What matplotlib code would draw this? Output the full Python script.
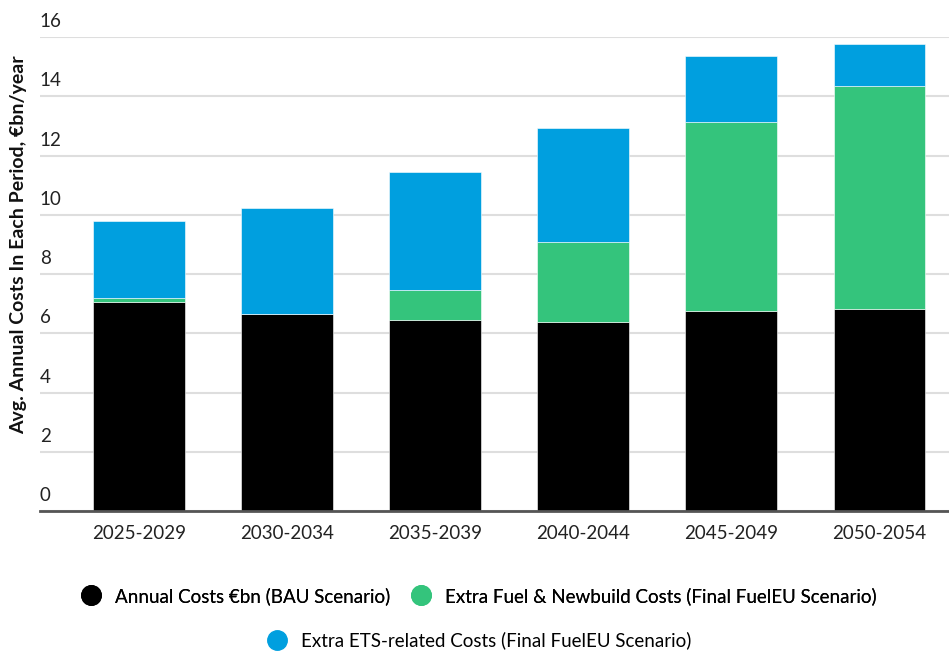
import matplotlib.pyplot as plt
from matplotlib.lines import Line2D
import numpy as np

plt.rcParams['font.family'] = ['Lato', 'DejaVu Sans']

periods = ['2025-2029', '2030-2034', '2035-2039', '2040-2044', '2045-2049', '2050-2054']
bau_costs = [7.05, 6.66, 6.45, 6.38, 6.76, 6.82]
fuel_newbuild = [0.14, 0.0, 1.02, 2.70, 6.38, 7.53]
ets_costs = [2.60, 3.58, 3.98, 3.85, 2.24, 1.42]
y_ticks = [0, 2, 4, 6, 8, 10, 12, 14, 16]

labels = ['Annual Costs €bn (BAU Scenario)',
          'Extra Fuel & Newbuild Costs (Final FuelEU Scenario)',
          'Extra ETS-related Costs (Final FuelEU Scenario)']
colors = ['#000000', '#34C47C', '#009FDF']

fig = plt.figure(figsize=(9.49, 6.52), dpi=100)
ax = fig.add_axes([0.042, 0.216, 0.958, 0.727])

x = np.arange(len(periods))
w = 0.62
bottom = np.zeros(len(periods))
for vals, col in zip([bau_costs, fuel_newbuild, ets_costs], colors):
    ax.bar(x, vals, w, bottom=bottom, color=col, edgecolor='#ffffff',
           linewidth=0.4, zorder=3)
    bottom += np.array(vals)

ax.set_xlim(-0.67, 5.47)
ax.set_ylim(0, 16)
ax.set_yticks(y_ticks)
ax.set_yticklabels([])
ax.tick_params(axis='y', length=0)
ax.grid(axis='y', color='#dedede', linewidth=1.5, zorder=0)
# y labels sit just above their gridline
for t in y_ticks:
    ax.annotate(str(t), (0, t), xycoords=ax.get_yaxis_transform(),
                xytext=(0, 5), textcoords='offset points', ha='left',
                va='bottom', fontsize=13.5, color='#222222')
ax.set_xticks(x)
ax.set_xticklabels(periods, fontsize=13.5, color='#222222')
ax.tick_params(axis='x', length=0, pad=10)

for s in ['top', 'right', 'left']:
    ax.spines[s].set_visible(False)
ax.spines['bottom'].set_color('#555555')
ax.spines['bottom'].set_linewidth(2)
ax.spines['bottom'].set_zorder(4)

fig.text(0.02, 0.624, 'Avg. Annual Costs In Each Period, €bn/year', rotation=90,
         ha='center', va='center', fontsize=14, fontweight='bold', color='#111111')

handles = [Line2D([], [], marker='o', linestyle='', markersize=14,
                  markerfacecolor=c, markeredgecolor=c) for c in colors]
leg1 = fig.legend(handles[:2], labels[:2], loc='center', ncol=2,
                  bbox_to_anchor=(0.5, 0.086), frameon=False, fontsize=13.5,
                  handletextpad=0.3, columnspacing=0.6)
fig.legend(handles[2:], labels[2:], loc='center',
           bbox_to_anchor=(0.5, 0.018), frameon=False, fontsize=13.5,
           handletextpad=0.3)
fig.add_artist(leg1)

fig.savefig('out.png', dpi=100)
